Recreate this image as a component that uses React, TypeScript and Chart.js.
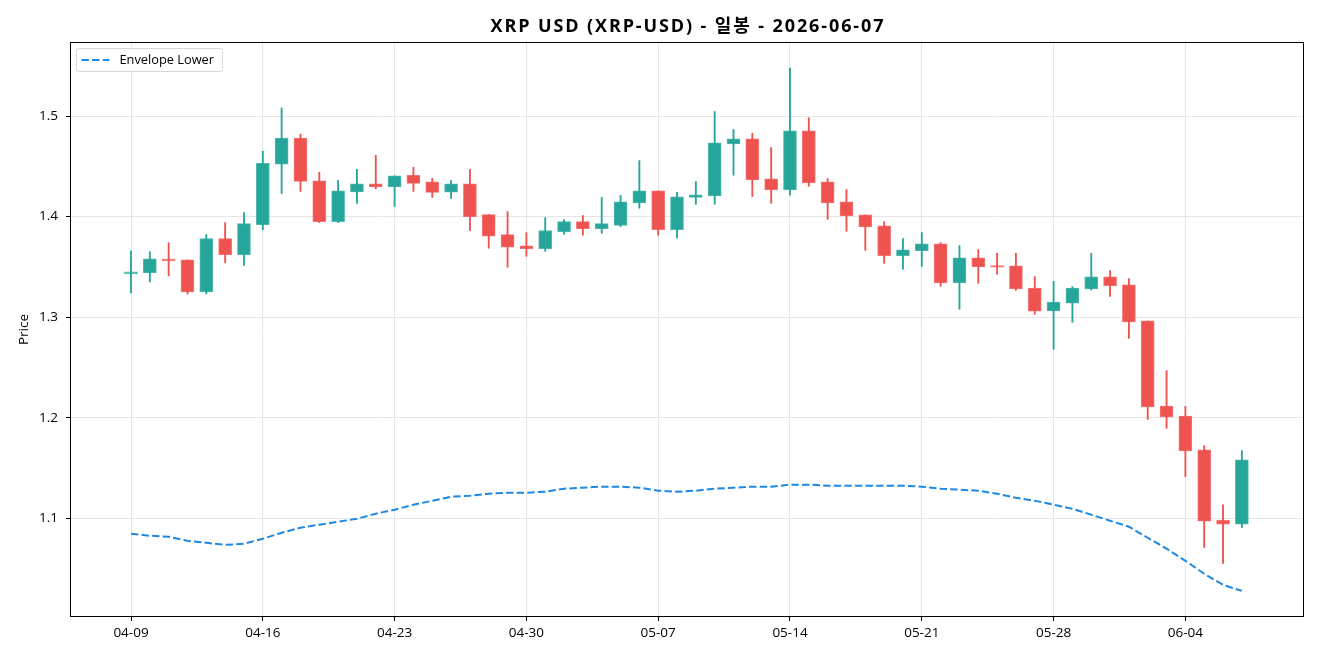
import React, { useEffect, useRef } from 'react';
import { Chart, registerables } from 'chart.js';

Chart.register(...registerables);

const dates = [
  '04-09', '04-10', '04-11', '04-12', '04-13', '04-14', '04-15', '04-16', '04-17', '04-18',
  '04-19', '04-20', '04-21', '04-22', '04-23', '04-24', '04-25', '04-26', '04-27', '04-28',
  '04-29', '04-30', '05-01', '05-02', '05-03', '05-04', '05-05', '05-06', '05-07', '05-08',
  '05-09', '05-10', '05-11', '05-12', '05-13', '05-14', '05-15', '05-16', '05-17', '05-18',
  '05-19', '05-20', '05-21', '05-22', '05-23', '05-24', '05-25', '05-26', '05-27', '05-28',
  '05-29', '05-30', '05-31', '06-01', '06-02', '06-03', '06-04', '06-05', '06-06', '06-07',
];

const opens = [
  1.343, 1.344, 1.358, 1.357, 1.325, 1.378, 1.362, 1.392, 1.452, 1.478,
  1.4355, 1.395, 1.4245, 1.4325, 1.4295, 1.441, 1.4345, 1.4242, 1.4325, 1.402,
  1.382, 1.371, 1.368, 1.385, 1.395, 1.388, 1.3913, 1.4136, 1.4256, 1.387,
  1.419, 1.4206, 1.4723, 1.4773, 1.4375, 1.4266, 1.4853, 1.4345, 1.4146, 1.4017,
  1.3907, 1.361, 1.366, 1.3728, 1.334, 1.359, 1.3512, 1.351, 1.329, 1.3062,
  1.314, 1.328, 1.34, 1.332, 1.2962, 1.2116, 1.2017, 1.168, 1.098, 1.0942,
];

const highs = [
  1.366, 1.365, 1.374, 1.357, 1.382, 1.394, 1.404, 1.465, 1.508, 1.482,
  1.444, 1.436, 1.447, 1.461, 1.4405, 1.449, 1.438, 1.436, 1.447, 1.402,
  1.405, 1.384, 1.399, 1.397, 1.401, 1.419, 1.421, 1.4557, 1.4256, 1.424,
  1.4348, 1.5045, 1.4866, 1.4829, 1.4687, 1.5476, 1.4982, 1.4378, 1.4269, 1.4017,
  1.395, 1.3781, 1.3841, 1.3741, 1.3711, 1.3672, 1.3635, 1.3635, 1.3403, 1.3356,
  1.3303, 1.3635, 1.3463, 1.3383, 1.2962, 1.2468, 1.2112, 1.1721, 1.1134, 1.1672,
];

const lows = [
  1.324, 1.335, 1.341, 1.323, 1.323, 1.354, 1.3515, 1.387, 1.423, 1.425,
  1.394, 1.394, 1.413, 1.4276, 1.41, 1.425, 1.419, 1.418, 1.386, 1.3685,
  1.3496, 1.3605, 1.3655, 1.3824, 1.3814, 1.3834, 1.39, 1.4083, 1.3814, 1.3784,
  1.4122, 1.4122, 1.4411, 1.42, 1.4132, 1.4212, 1.4302, 1.3973, 1.3854, 1.3665,
  1.3535, 1.3476, 1.3506, 1.3306, 1.3078, 1.3336, 1.3426, 1.3267, 1.3028, 1.268,
  1.2948, 1.327, 1.3207, 1.2789, 1.1983, 1.1894, 1.1413, 1.0709, 1.055, 1.0908,
];

const closes = [
  1.345, 1.358, 1.356, 1.325, 1.378, 1.362, 1.393, 1.453, 1.478, 1.435,
  1.395, 1.4255, 1.4325, 1.4295, 1.4405, 1.433, 1.424, 1.4325, 1.4, 1.3805,
  1.3695, 1.368, 1.386, 1.395, 1.388, 1.393, 1.4146, 1.4256, 1.387, 1.4196,
  1.4216, 1.4733, 1.4773, 1.4365, 1.4266, 1.4853, 1.4335, 1.4136, 1.4007, 1.3898,
  1.361, 1.367, 1.3728, 1.334, 1.359, 1.35, 1.3496, 1.328, 1.306, 1.315,
  1.329, 1.34, 1.3313, 1.2952, 1.2106, 1.2007, 1.167, 1.097, 1.0942, 1.158,
];

const envelopeLower = [
  1.0846, 1.0826, 1.0816, 1.0776, 1.0756, 1.0736, 1.0746, 1.0796, 1.0856, 1.0906,
  1.0936, 1.0965, 1.0995, 1.1045, 1.1085, 1.1135, 1.1174, 1.1214, 1.1224, 1.1244,
  1.1254, 1.1254, 1.1264, 1.1294, 1.1304, 1.1314, 1.1314, 1.1304, 1.1274, 1.1264,
  1.1274, 1.1294, 1.1304, 1.1314, 1.1314, 1.1334, 1.1334, 1.1324, 1.1324, 1.1324,
  1.1324, 1.1324, 1.1314, 1.1294, 1.1284, 1.1274, 1.1244, 1.1204, 1.1174, 1.1135,
  1.1095, 1.1035, 1.0975, 1.0916, 1.0806, 1.0697, 1.0577, 1.0448, 1.0338, 1.0278,
];

const xTickIndices = [0, 7, 14, 21, 28, 35, 42, 49, 56];
const yTickValues = [1.1, 1.2, 1.3, 1.4, 1.5];

const TITLE = 'XRP USD (XRP-USD) - 일봉 - 2026-06-07';
const Y_LABEL = 'Price';
const LEGEND_LABEL = 'Envelope Lower';

const UP = '#26a69a';
const DOWN = '#ef5350';
const LINE = '#1e88e5';
const FONT = '"Open Sans", "Noto Sans CJK KR", sans-serif';
const TITLE_FONT = '"Open Sans", "Noto Sans CJK KR", sans-serif';

const decorPlugin = {
  id: 'decor',
  afterDraw(chart: any) {
    const { ctx, chartArea } = chart;
    const { left, top, right, bottom } = chartArea;
    ctx.save();
    // frame
    ctx.strokeStyle = '#000';
    ctx.lineWidth = 1;
    ctx.strokeRect(left + 0.5, top + 0.5, right - left - 1, bottom - top - 1);

    // title (letter-spaced to match the reference width)
    ctx.fillStyle = '#000';
    ctx.font = `bold 18px ${TITLE_FONT}`;
    const baseW = ctx.measureText(TITLE).width;
    const spacing = Math.max(0, (395 - baseW) / TITLE.length);
    try {
      (ctx as any).letterSpacing = `${spacing.toFixed(2)}px`;
    } catch (e) {
      /* ignore */
    }
    ctx.textAlign = 'center';
    ctx.textBaseline = 'middle';
    ctx.fillText(TITLE, (left + right) / 2 + spacing / 2, 27);
    try {
      (ctx as any).letterSpacing = '0px';
    } catch (e) {
      /* ignore */
    }

    // y axis label
    ctx.save();
    ctx.translate(24, (top + bottom) / 2);
    ctx.rotate(-Math.PI / 2);
    ctx.font = `13.5px ${FONT}`;
    ctx.textAlign = 'center';
    ctx.textBaseline = 'middle';
    ctx.fillText(Y_LABEL, 0, 0);
    ctx.restore();

    // legend
    const bx = left + 6.5, by = top + 6.5, bw = 146, bh = 23;
    ctx.beginPath();
    const r = 3;
    ctx.moveTo(bx + r, by);
    ctx.lineTo(bx + bw - r, by);
    ctx.quadraticCurveTo(bx + bw, by, bx + bw, by + r);
    ctx.lineTo(bx + bw, by + bh - r);
    ctx.quadraticCurveTo(bx + bw, by + bh, bx + bw - r, by + bh);
    ctx.lineTo(bx + r, by + bh);
    ctx.quadraticCurveTo(bx, by + bh, bx, by + bh - r);
    ctx.lineTo(bx, by + r);
    ctx.quadraticCurveTo(bx, by, bx + r, by);
    ctx.closePath();
    ctx.fillStyle = 'rgba(255,255,255,0.85)';
    ctx.fill();
    ctx.strokeStyle = '#d6d6d6';
    ctx.lineWidth = 1;
    ctx.stroke();

    ctx.strokeStyle = LINE;
    ctx.lineWidth = 2;
    ctx.setLineDash([7.4, 3.2]);
    ctx.beginPath();
    ctx.moveTo(bx + 5, by + 11.5);
    ctx.lineTo(bx + 33, by + 11.5);
    ctx.stroke();
    ctx.setLineDash([]);

    ctx.fillStyle = '#000';
    ctx.font = `12.8px ${FONT}`;
    ctx.textAlign = 'left';
    ctx.textBaseline = 'middle';
    ctx.fillText(LEGEND_LABEL, bx + 43, by + 11.5);
    ctx.restore();
  },
};

export default function App() {
  const canvasRef = useRef<HTMLCanvasElement | null>(null);

  useEffect(() => {
    const canvas = canvasRef.current;
    if (!canvas) return;
    const up = dates.map((_, i) => closes[i] >= opens[i]);
    const colors = up.map((u) => (u ? UP : DOWN));

    const chart = new Chart(canvas, {
      data: {
        datasets: [
          {
            type: 'line',
            label: LEGEND_LABEL,
            data: dates.map((_, i) => ({ x: i, y: envelopeLower[i] })),
            borderColor: LINE,
            borderWidth: 2,
            borderDash: [7.4, 3.2],
            pointRadius: 0,
            tension: 0,
            order: 0,
          } as any,
          {
            type: 'bar',
            label: 'body',
            data: dates.map((_, i) => ({ x: i, y: [opens[i], closes[i]] })),
            backgroundColor: colors,
            borderColor: colors.map((c) => c + 'cc'),
            borderWidth: 1,
            borderSkipped: false,
            barThickness: 13,
            grouped: false,
            order: 1,
          } as any,
          {
            type: 'bar',
            label: 'wick',
            data: dates.map((_, i) => ({ x: i, y: [lows[i], highs[i]] })),
            backgroundColor: colors,
            borderWidth: 0,
            barThickness: 1.2,
            grouped: false,
            order: 2,
          } as any,
        ],
      },
      options: {
        responsive: false,
        animation: false,
        devicePixelRatio: 1,
        layout: { padding: { top: 42, right: 16, left: 0, bottom: 0 } },
        plugins: {
          legend: { display: false },
          tooltip: { enabled: false },
          title: { display: false },
        },
        scales: {
          x: {
            type: 'linear',
            min: -3.24,
            max: 62.3,
            offset: false,
            afterFit: (scale: any) => {
              scale.height = 43;
            },
            afterBuildTicks: (scale: any) => {
              scale.ticks = xTickIndices.map((v) => ({ value: v }));
            },
            ticks: {
              autoSkip: false,
              maxRotation: 0,
              padding: 4,
              color: '#000',
              font: { family: FONT, size: 13.5 },
              callback: (v: any) => dates[v] ?? '',
            },
            grid: {
              offset: false,
              color: '#e6e6e6',
              lineWidth: 1,
              tickColor: '#000',
              tickLength: 4,
              drawTicks: true,
            },
            border: { display: false },
          },
          y: {
            type: 'linear',
            min: 1.0018,
            max: 1.5736,
            afterFit: (scale: any) => {
              scale.width = 70;
            },
            afterBuildTicks: (scale: any) => {
              scale.ticks = yTickValues.map((v) => ({ value: v }));
            },
            ticks: {
              padding: 8,
              color: '#000',
              font: { family: FONT, size: 13.5 },
              callback: (v: any) => Number(v).toFixed(1),
            },
            grid: {
              color: '#e6e6e6',
              lineWidth: 1,
              tickColor: '#000',
              tickLength: 4,
              drawTicks: true,
            },
            border: { display: false },
          },
        },
      } as any,
      plugins: [decorPlugin],
    } as any);

    return () => chart.destroy();
  }, []);

  return (
    <div style={{ position: 'absolute', left: 0, top: 0, width: 1320, height: 660, background: '#fff' }}>
      <canvas ref={canvasRef} width={1320} height={660} style={{ width: 1320, height: 660, display: 'block' }} />
    </div>
  );
}
